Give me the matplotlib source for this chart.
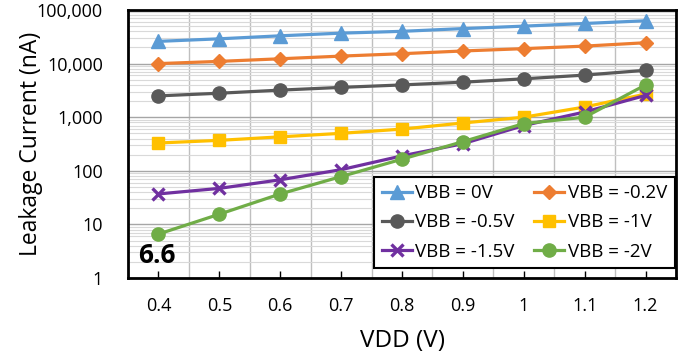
import matplotlib
matplotlib.use("Agg")
import matplotlib.pyplot as plt
from matplotlib.ticker import FixedLocator, NullFormatter, FuncFormatter, LogLocator

plt.rcParams['font.family'] = ['Open Sans', 'DejaVu Sans']

vdd = [0.4, 0.5, 0.6, 0.7, 0.8, 0.9, 1.0, 1.1, 1.2]
vdd_labels = ['0.4', '0.5', '0.6', '0.7', '0.8', '0.9', '1', '1.1', '1.2']

vbb_0 = [26000, 29000, 33000, 37000, 40000, 45000, 50000, 56000, 63000]
vbb_m02 = [10000, 11000, 12300, 13800, 15300, 17200, 19000, 21200, 24500]
vbb_m05 = [2500, 2800, 3200, 3600, 4000, 4500, 5200, 6100, 7500]
vbb_m1 = [330, 370, 430, 500, 600, 780, 1000, 1550, 2700]
vbb_m15 = [37, 47, 68, 105, 190, 320, 700, 1250, 2550]
vbb_m2 = [6.6, 15.5, 37, 78, 165, 350, 760, 1000, 4000]

series = [
    ('VBB = 0V', vbb_0, '#5B9BD5', '^', 9.5),
    ('VBB = -0.2V', vbb_m02, '#ED7D31', 'D', 7.5),
    ('VBB = -0.5V', vbb_m05, '#595959', 'o', 9.5),
    ('VBB = -1V', vbb_m1, '#FFC000', 's', 9),
    ('VBB = -1.5V', vbb_m15, '#7030A0', 'x', 9),
    ('VBB = -2V', vbb_m2, '#70AD47', 'o', 9.5),
]

fig = plt.figure(figsize=(6.88, 3.57), dpi=100)
ax = fig.add_axes([128/688, 1-278/357, (676-128)/688, (278-10)/357])

handles = []
for label, vals, color, mk, ms in series:
    kw = dict(markersize=ms)
    if mk == 'x':
        kw['markeredgewidth'] = 2.4
    h, = ax.plot(vdd, vals, color=color, marker=mk, lw=2.3, label=label, zorder=3, **kw)
    handles.append(h)

ax.set_yscale('log')
ax.set_ylim(1, 100000)
ax.set_xlim(0.35, 1.25)
ax.set_xticks(vdd)
ax.set_xticklabels(vdd_labels)
ax.xaxis.set_minor_locator(FixedLocator([0.45 + 0.1 * i for i in range(8)]))
ax.yaxis.set_major_locator(LogLocator(base=10, numticks=10))
ax.yaxis.set_minor_locator(LogLocator(base=10, subs=range(2, 10), numticks=20))
ax.yaxis.set_minor_formatter(NullFormatter())
ax.yaxis.set_major_formatter(FuncFormatter(lambda v, p: f'{int(round(v)):,}'))

ax.grid(True, which='major', axis='y', color='#A6A6A6', lw=1.0, zorder=0)
ax.grid(True, which='minor', axis='y', color='#D9D9D9', lw=0.8, zorder=0)
ax.grid(True, which='minor', axis='x', color='#BFBFBF', lw=1.0, zorder=0)
ax.grid(False, which='major', axis='x')

ax.tick_params(axis='x', which='major', direction='in', length=5, width=1, labelsize=13, pad=14, color='black')
ax.tick_params(axis='x', which='minor', length=0)
ax.tick_params(axis='y', which='both', length=0, labelsize=13, pad=18)
for s in ax.spines.values():
    s.set_linewidth(2)
    s.set_color('black')

ax.set_xlabel('VDD (V)', fontsize=17.5)
ax.xaxis.set_label_coords(0.5, -0.19)
ax.set_ylabel('Leakage Current (nA)', fontsize=16.5)
ax.yaxis.set_label_coords(-0.155, 0.5)

ax.text(0.019, 0.035, '6.6', transform=ax.transAxes, fontsize=19, fontweight='bold', ha='left', va='bottom')

order = [0, 2, 4, 1, 3, 5]
leg = ax.legend([handles[i] for i in order], [series[i][0] for i in order],
                ncol=2, loc='lower left', bbox_to_anchor=(0.449, 0.037, 0.549, 0.35), mode='expand',
                fontsize=13.5, frameon=True, fancybox=False, edgecolor='black', framealpha=1,
                handlelength=1.6, columnspacing=0.6, handletextpad=0.2, labelspacing=0.6,
                borderpad=0.4, borderaxespad=0)
leg.get_frame().set_linewidth(1.5)

fig.savefig('out.png', dpi=100)
